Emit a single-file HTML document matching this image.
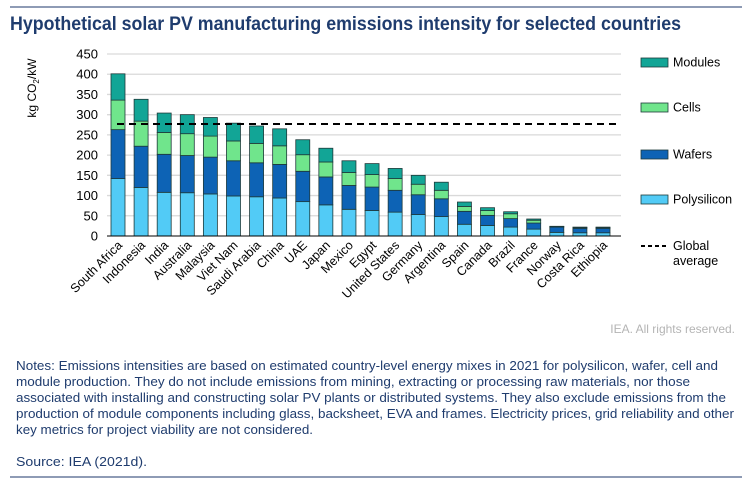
<!DOCTYPE html>
<html><head><meta charset="utf-8"><style>
html,body{margin:0;padding:0;background:#fff;}
svg{display:block;font-family:"Liberation Sans",Arial,sans-serif;}
</style></head><body>
<svg id="chart" width="752" height="486" viewBox="0 0 752 486">
<line x1="10" y1="7" x2="742" y2="7" stroke="#8e9bb5" stroke-width="2"/>
<text x="10" y="30" font-size="19" font-weight="bold" fill="#1f3c6e" textLength="671" lengthAdjust="spacingAndGlyphs">Hypothetical solar PV manufacturing emissions intensity for selected countries</text>
<text transform="translate(36,88) rotate(-90)" font-size="12" text-anchor="middle" fill="#000">kg CO<tspan font-size="8" dy="3">2</tspan><tspan dy="-3">/kW</tspan></text>
<g id="grid"></g>
<g id="yticks"></g>
<g id="bars"></g>
<g id="xlabels"></g>
<g id="avg"></g>
<g id="legend"></g>
<text x="735" y="333" font-size="12" text-anchor="end" fill="#b4b4b4">IEA. All rights reserved.</text>
<g font-size="12.5" fill="#1f3c6e">
<text x="16" y="370" textLength="702" lengthAdjust="spacingAndGlyphs">Notes: Emissions intensities are based on estimated country-level energy mixes in 2021 for polysilicon, wafer, cell and</text>
<text x="16" y="386" textLength="674" lengthAdjust="spacingAndGlyphs">module production. They do not include emissions from mining, extracting or processing raw materials, nor those</text>
<text x="16" y="402" textLength="710" lengthAdjust="spacingAndGlyphs">associated with installing and constructing solar PV plants or distributed systems. They also exclude emissions from the</text>
<text x="16" y="418" textLength="718" lengthAdjust="spacingAndGlyphs">production of module components including glass, backsheet, EVA and frames. Electricity prices, grid reliability and other</text>
<text x="16" y="434" textLength="297" lengthAdjust="spacingAndGlyphs">key metrics for project viability are not considered.</text>
<text x="16" y="466" textLength="131" lengthAdjust="spacingAndGlyphs">Source: IEA (2021d).</text>
</g>
<line x1="10" y1="477" x2="742" y2="477" stroke="#8e9bb5" stroke-width="2"/>
</svg>
<script>
const countries=["South Africa","Indonesia","India","Australia","Malaysia","Viet Nam","Saudi Arabia","China","UAE","Japan","Mexico","Egypt","United States","Germany","Argentina","Spain","Canada","Brazil","France","Norway","Costa Rica","Ethiopia"];
const polysilicon=[142,120,108,107,104,99,97,94,85,77,66,63,59,53,48,29,26,22,17,9,8,8];
const wafers=[121,102,94,92,91,87,84,83,75,69,59,58,54,49,44,32,25,21,15,13,11,11];
const cells=[73,62,54,54,52,49,48,46,41,37,32,31,29,26,21,12,12,12,7,1,2,2];
const modules=[65,54,48,47,46,44,43,42,37,34,29,27,25,22,20,11,7,5,3,1,1,1];
const globalAverage=[277];
const yTicks=[0,50,100,150,200,250,300,350,400,450];
const seriesNames=["Modules","Cells","Wafers","Polysilicon"];
const NS="http://www.w3.org/2000/svg";
const y0=236,yTop=54,x0=107,x1=621;
const y=v=>y0-(v/450)*(y0-yTop);
const step=(603-118)/(countries.length-1);
const x=i=>118+step*i;
const bw=14;
const colors={Polysilicon:"#52cbf6",Wafers:"#0d63b5",Cells:"#70e58c",Modules:"#12a596"};
function mk(tag,attrs,parent){const e=document.createElementNS(NS,tag);for(const k in attrs)e.setAttribute(k,attrs[k]);parent.appendChild(e);return e;}
const grid=document.getElementById('grid'),yt=document.getElementById('yticks');
yTicks.forEach(t=>{
 if(t>0){const l=mk('line',{x1:x0,x2:x1,y1:y(t),y2:y(t),stroke:'#d9d9d9','stroke-width':1.3},grid);
 
 }
 const tx=mk('text',{x:98,y:y(t)+4.5,'font-size':13,'text-anchor':'end',fill:'#000'},yt);
 tx.textContent=t;
 
 
});
const bars=document.getElementById('bars'),xl=document.getElementById('xlabels');
countries.forEach((c,i)=>{
 let base=0;
 [["Polysilicon",polysilicon],["Wafers",wafers],["Cells",cells],["Modules",modules]].forEach(([n,arr])=>{
  const v=arr[i];
  const r=mk('rect',{x:x(i)-bw/2,y:y(base+v),width:bw,height:y(base)-y(base+v),fill:colors[n],stroke:'#1e3a3a','stroke-width':0.8},bars);
  
  
  base+=v;
 });
 const t=mk('text',{transform:`translate(${x(i)+5},${y0+10}) rotate(-45)`,'font-size':12.5,'text-anchor':'end',fill:'#000'},xl);
 t.textContent=c;
 
 
});
const ax=mk('line',{x1:x0,x2:x1,y1:y0,y2:y0,stroke:'#000','stroke-width':1},xl);


const avg=document.getElementById('avg');
const al=mk('line',{x1:x(0)-1,x2:x1-5,y1:y(globalAverage[0]),y2:y(globalAverage[0]),stroke:'#000','stroke-width':2,'stroke-dasharray':'7,5'},avg);


const lg=document.getElementById('legend');
const ly={Modules:62,Cells:107,Wafers:154,Polysilicon:199};
seriesNames.forEach(n=>{
 const r=mk('rect',{x:641,y:ly[n]-4,width:27,height:9,fill:colors[n],stroke:'#1e3a3a','stroke-width':0.8},lg);
 
 
 const t=mk('text',{x:673,y:ly[n]+4.5,'font-size':12.5,fill:'#000'},lg);
 t.textContent=n;
 
 
});
const dl=mk('line',{x1:641,x2:668,y1:246,y2:246,stroke:'#000','stroke-width':2,'stroke-dasharray':'4,3'},lg);


const t1=mk('text',{x:673,y:250,'font-size':12.5,fill:'#000'},lg);t1.textContent='Global';


const t2=mk('text',{x:673,y:265,'font-size':12.5,fill:'#000'},lg);t2.textContent='average';


</script>
</body></html>
